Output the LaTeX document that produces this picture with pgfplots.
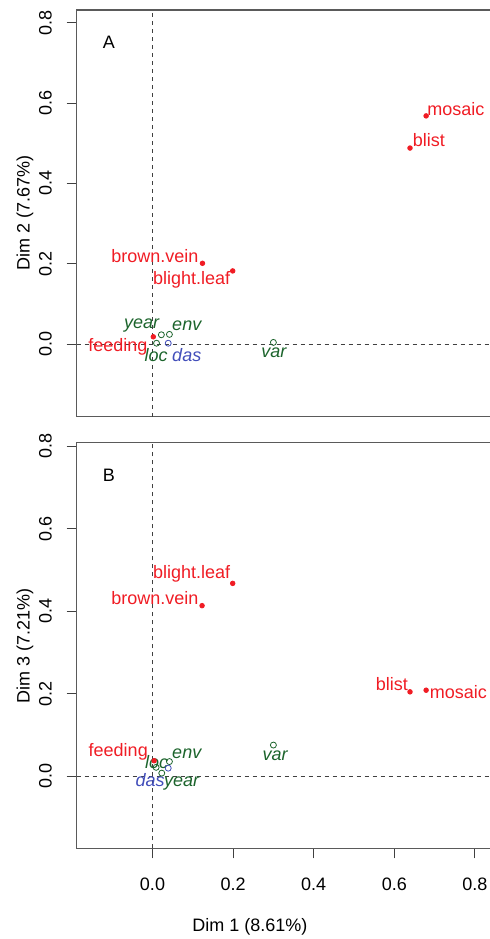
\documentclass[border=0pt]{standalone}
\usepackage{fontspec}
\setmainfont{Liberation Sans}
\usepackage{pgfplots}
\pgfplotsset{compat=1.18}
\definecolor{cred}{RGB}{240,28,36}
\definecolor{cgreen}{RGB}{28,100,44}
\definecolor{cblue}{RGB}{66,78,186}
\definecolor{cbox}{RGB}{90,90,90}
\tikzset{lab/.style={font=\fontsize{9}{10}\selectfont, inner sep=0pt, anchor=center}}
\pgfplotsset{
  mca/.style={
    scale only axis,
    anchor=south west,
    width=206.65pt,
    xmin=-0.1881, xmax=0.8375,
    clip=false,
    axis line style={draw=none},
    tick align=outside,
    major tick length=5pt,
    tick style={color=black!75, line width=0.5pt},
    xtick pos=bottom, ytick pos=left,
    ytick={0,0.2,0.4,0.6,0.8},
    /pgf/number format/assume math mode=true,
    /pgf/number format/.cd, fixed, fixed zerofill, precision=1, /pgfplots/.cd,
    ticklabel style={font=\fontsize{9}{10}\selectfont},
    yticklabel style={rotate=90, anchor=south, inner sep=0pt},
    yticklabel shift=7.3pt,
    every axis y label/.style={at={(axis description cs:-0.1253,0.5)}, rotate=90, anchor=center, font=\fontsize{9}{10}\selectfont},
  },
}
\begin{document}
\begin{tikzpicture}
\useasboundingbox (0pt,0pt) rectangle (245pt,-469.5pt);
% Panel A
\begin{axis}[mca,
  at={(38.35pt,-208.35pt)},
  height=203.35pt,
  ymin=-0.181, ymax=0.8317,
  xtick=\empty,
  ylabel={Dim 2 (7.67\%)},
]
\draw[cbox, line width=0.6pt] (rel axis cs:1.02,0) -- (rel axis cs:0,0) -- (rel axis cs:0,1) -- (rel axis cs:1.02,1);
\addplot[black!75, dash pattern=on 2pt off 2pt, line width=0.45pt] coordinates {(0,-0.181) (0,0.8317)};
\addplot[black!75, dash pattern=on 2pt off 2pt, line width=0.45pt] coordinates {(-0.1881,0) (0.8375,0)};
\addplot[only marks, mark=o, mark size=1.5pt, cgreen, mark options={line width=0.4pt}] coordinates {
 (0.022,0.023) (0.042,0.024) (0.010,0.002) (0.300,0.004)};
\addplot[only marks, mark=o, mark size=1.5pt, cblue, mark options={line width=0.4pt}] coordinates {(0.039,0.002)};
\addplot[only marks, mark=*, mark size=1.15pt, cred] coordinates {
 (0.679,0.568) (0.639,0.488) (0.124,0.201) (0.199,0.182) (0.002,0.018)};
\node[lab, text=cred] at (axis cs:0.753,0.585) {mosaic};
\node[lab, text=cred] at (axis cs:0.686,0.507) {blist};
\node[lab, text=cred] at (axis cs:0.006,0.220) {brown.vein};
\node[lab, text=cred] at (axis cs:0.097,0.159) {blight.leaf};
\node[lab, text=cred] at (axis cs:-0.086,-0.007) {feeding};
\node[lab, text=cgreen] at (axis cs:-0.027,0.047) {\itshape year};
\node[lab, text=cgreen] at (axis cs:0.085,0.045) {\itshape env};
\node[lab, text=cgreen] at (axis cs:0.009,-0.027) {\itshape loc};
\node[lab, text=cblue] at (axis cs:0.085,-0.027) {\itshape das};
\node[lab, text=cgreen] at (axis cs:0.301,-0.022) {\itshape var};
\node[lab] at (axis cs:-0.108,0.75) {A};
\end{axis}
% Panel B
\begin{axis}[mca,
  at={(38.35pt,-424.15pt)},
  height=202.8pt,
  ymin=-0.1753, ymax=0.808,
  xtick={0,0.2,0.4,0.6,0.8},
  xticklabel style={anchor=north, inner sep=0pt},
  xticklabel shift=9.8pt,
  ylabel={Dim 3 (7.21\%)},
  xlabel={Dim 1 (8.61\%)},
  every axis x label/.style={at={(axis description cs:0.419,0)}, anchor=center, yshift=-39.3pt, font=\fontsize{9}{10}\selectfont},
]
\draw[cbox, line width=0.6pt] (rel axis cs:1.02,0) -- (rel axis cs:0,0) -- (rel axis cs:0,1) -- (rel axis cs:1.02,1);
\addplot[black!75, dash pattern=on 2pt off 2pt, line width=0.45pt] coordinates {(0,-0.1753) (0,0.808)};
\addplot[black!75, dash pattern=on 2pt off 2pt, line width=0.45pt] coordinates {(-0.1881,0) (0.8375,0)};
\addplot[only marks, mark=o, mark size=1.5pt, cgreen, mark options={line width=0.4pt}] coordinates {
 (0.023,0.007) (0.042,0.035) (0.009,0.021) (0.300,0.075)};
\addplot[only marks, mark=o, mark size=1.5pt, cblue, mark options={line width=0.4pt}] coordinates {(0.039,0.019)};
\addplot[only marks, mark=*, mark size=1.15pt, cred] coordinates {
 (0.679,0.208) (0.639,0.204) (0.123,0.413) (0.199,0.467) (0.004,0.037)};
\node[lab, text=cred] at (axis cs:0.759,0.203) {mosaic};
\node[lab, text=cred] at (axis cs:0.594,0.223) {blist};
\node[lab, text=cred] at (axis cs:0.006,0.431) {brown.vein};
\node[lab, text=cred] at (axis cs:0.097,0.490) {blight.leaf};
\node[lab, text=cred] at (axis cs:-0.085,0.059) {feeding};
\node[lab, text=cgreen] at (axis cs:0.072,-0.018) {\itshape year};
\node[lab, text=cgreen] at (axis cs:0.085,0.053) {\itshape env};
\node[lab, text=cgreen] at (axis cs:0.010,0.035) {\itshape loc};
\node[lab, text=cblue] at (axis cs:-0.006,-0.011) {\itshape das};
\node[lab, text=cgreen] at (axis cs:0.304,0.048) {\itshape var};
\node[lab] at (axis cs:-0.108,0.73) {B};
\end{axis}
\end{tikzpicture}
\end{document}
